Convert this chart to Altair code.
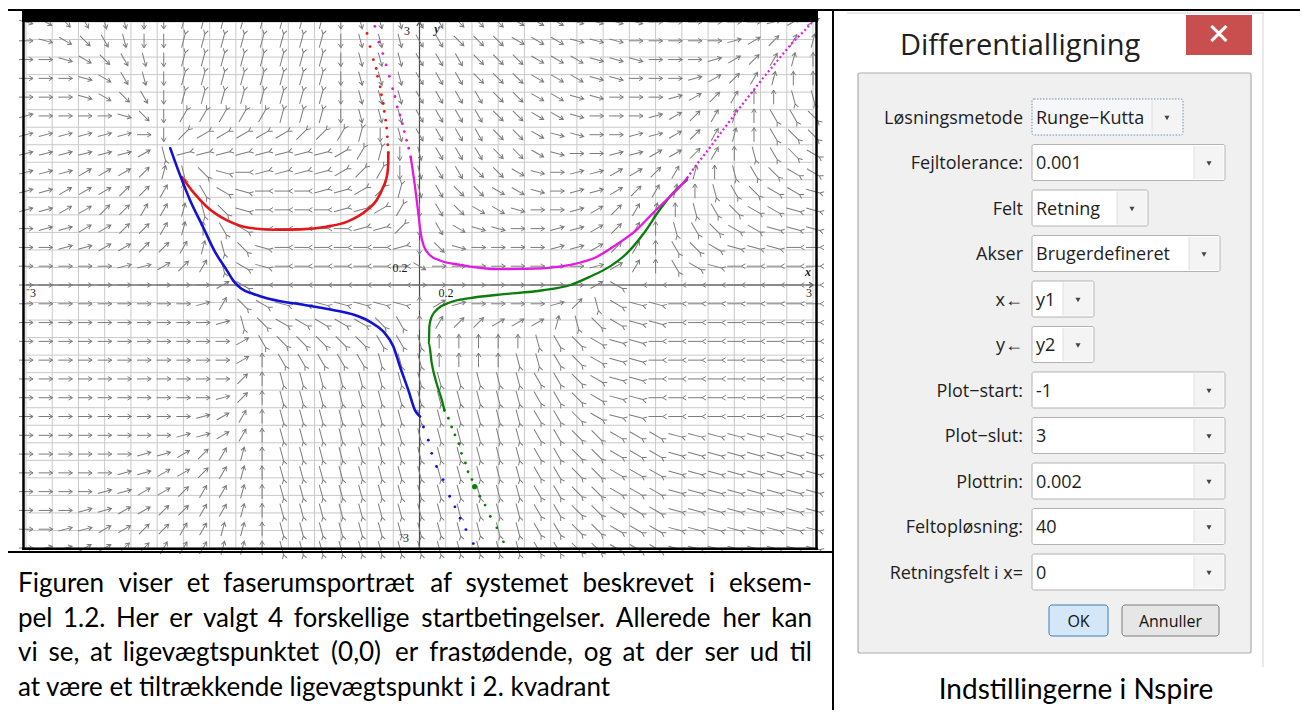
import altair as alt
import pandas as pd

OFF = 8  # page margin: reference pixel -> chart pixel

# ---------------- phase portrait data ----------------
GRID_TICKS = [round(-3 + 0.2 * i, 1) for i in range(31)]
FIELD_X = [round(-3 + 0.15 * k, 3) for k in range(41)]
FIELD_Y = [round(3 - 6 * r / 28, 4) for r in range(29)]
DIRS = "abcdefghijklmnopqrstuvwx"  # flow direction in 15 degree steps: a=east, g=north, m=west, s=south
FIELD = [
    "xwvuttssrrrrrrrrstttuuvvvwwwxxxxaaaaaabcc",
    "axwvutssrrrrrrrrstttuuvvvwwwxxxaaaaabcdef",
    "aaxwvutsrrrrrrrrstttuuuvvvwwwxxxaaabcdefg",
    "aaaxwutsrrrrrrrrstttuuuvvvwwwxxaaabcdefgg",
    "aaaxwvusrrrrrrrrstttuuuuvvwwxxaaabcdegghh",
    "baaaaxvsqqqqqrrrstttuuuuvvwwxaaabcdefgiij",
    "bbbbbbaspoooooppqrstuuuuvvwxxaabbcdefgijj",
    "bbbbbbchnnnnnnnnoqrstuuuvvwxaabbccdeghijk",
    "bbbcccdfhjlmnnnnopqstuuvvwxabbccdefghijkk",
    "bbcccddegiklmmmnnoprtuvvwwxabbcdefghijkkl",
    "bbccddeefhjlmmmmnnoqsuvwwxaabcdefghijkkll",
    "abbccddefgikmmmmmnnpsuwxxaabbcdeghijkklll",
    "aabbccddefhjlmmmmmmnsvxaaaabbcdegijklllmm",
    "aaaaabbcdehklmmmmmmmwaaaaaaaabcegiklmmmmm",
    "aaaaaaaaaackmmmmmmmmaaaaaaaaackmmmmmmmmmm",
    "aaaaaaaaabejklllllllgcbaaaabdhkllmmmmmmmm",
    "aaaaaaaaaabhjkkkkkjigeddcccfhjkllmmmmmmmm",
    "aaaaaaaaaaacijjjjjiihggggghijkllmmmmmmmmm",
    "aaaaaaaaaaacgiiiiihhhgggghhijkllmmmmmmmmm",
    "aaaaaaaaaaadghhhhhhhhhhhhhiijkllmmmmmmmmm",
    "aaaaaaaaaabdghhhhhhhhhhhhhiijkllmmmmmmmmm",
    "aaaaaaaaabceghhhhhhhhhhhhhiijkllmmmmmmmmm",
    "aaaaaaaabbceghhhhhhhhhhhhhiijjkkkllllllll",
    "aaaaaabbcdefghhhhhhhhhhhhhiijjkkkllllllll",
    "aaaaabbccdefghhhhhhhhhhhhhiijjkkkllllllll",
    "aaaabbccdeefghhhhhhhhhhhhhiijjkkkllllllll",
    "aaabbccddeefghhhhhhhhhhhhhiijjkkkllllllll",
    "aabbccddeeffghhhhhhhhhhhhhiijjkkkllllllll",
    "abbccddeeeffghhhhhhhhhhhhhiijjkkkllllllll",
]

RED_DOT_X = [-0.40, -0.377, -0.352, -0.33, -0.32, -0.30, -0.29, -0.276, -0.268, -0.258, -0.25, -0.245, -0.242, -0.238]
RED_DOT_Y = [2.87, 2.72, 2.57, 2.47, 2.38, 2.26, 2.17, 2.07, 1.98, 1.88, 1.79, 1.69, 1.60, 1.51]
RED_X = [-0.238, -0.238, -0.245, -0.276, -0.326, -0.40, -0.555, -0.71, -0.91, -1.09, -1.29, -1.47, -1.62, -1.72, -1.81]
RED_Y = [1.51, 1.39, 1.27, 1.12, 0.97, 0.855, 0.72, 0.665, 0.635, 0.63, 0.65, 0.74, 0.89, 1.05, 1.23]

BLUE_X = [-1.90, -1.83, -1.75, -1.65, -1.56, -1.47, -1.42, -1.36, -1.27, -1.165, -1.04, -0.91, -0.66, -0.50, -0.377, -0.276, -0.20, -0.149, -0.085, -0.034, 0.004]
BLUE_Y = [1.56, 1.27, 0.97, 0.66, 0.38, 0.17, 0.05, -0.04, -0.10, -0.15, -0.19, -0.22, -0.285, -0.34, -0.42, -0.53, -0.70, -0.93, -1.20, -1.43, -1.50]
BLUE_DOT_X = [0.03, 0.067, 0.093, 0.13, 0.18, 0.23, 0.27, 0.31, 0.354, 0.41]
BLUE_DOT_Y = [-1.62, -1.77, -1.92, -2.07, -2.22, -2.41, -2.53, -2.66, -2.79, -2.95]

GREEN_DOT_X = [0.64, 0.59, 0.54, 0.50, 0.46, 0.42, 0.40, 0.37, 0.35, 0.32, 0.30, 0.27, 0.245, 0.22, 0.19]
GREEN_DOT_Y = [-2.93, -2.77, -2.64, -2.51, -2.41, -2.30, -2.22, -2.13, -2.03, -1.92, -1.81, -1.71, -1.62, -1.52, -1.43]
GREEN_START = (0.42, -2.30)
GREEN_X = [0.19, 0.17, 0.13, 0.093, 0.072, 0.075, 0.093, 0.14, 0.23, 0.385, 0.61, 0.94, 1.15, 1.30, 1.45, 1.58, 1.71, 1.83, 1.93, 2.04]
GREEN_Y = [-1.43, -1.31, -1.12, -0.89, -0.665, -0.475, -0.36, -0.27, -0.20, -0.15, -0.11, -0.06, 0.0, 0.095, 0.21, 0.36, 0.59, 0.855, 1.045, 1.20]

MAG_DOT_X = [-0.34, -0.31, -0.28, -0.255, -0.23, -0.205, -0.187, -0.17, -0.149, -0.13, -0.116, -0.098, -0.082, -0.067]
MAG_DOT_Y = [2.95, 2.77, 2.64, 2.51, 2.38, 2.24, 2.15, 2.03, 1.94, 1.84, 1.75, 1.65, 1.56, 1.46]
MAG_X = [-0.067, -0.034, -0.009, 0.009, 0.034, 0.08, 0.156, 0.31, 0.61, 0.94, 1.15, 1.35, 1.50, 1.655, 1.78, 1.91, 1.985, 2.04]
MAG_Y = [1.46, 1.12, 0.82, 0.59, 0.44, 0.34, 0.28, 0.23, 0.18, 0.19, 0.23, 0.32, 0.46, 0.63, 0.82, 1.01, 1.12, 1.22]
MAG_DIAG_X = [2.04, 2.11, 2.19, 2.265, 2.34, 2.43, 2.53, 2.63, 2.735, 2.84, 2.94, 2.99]
MAG_DIAG_Y = [1.22, 1.37, 1.52, 1.67, 1.82, 2.0, 2.19, 2.38, 2.57, 2.76, 2.91, 2.99]

AXIS_LABELS = ["3", "y", "0.2", "⁻3", "0.2", "3", "x", "⁻3"]

PARAGRAPH = [
    "Figuren viser et faserumsportræt af systemet beskrevet i eksem-",
    "pel 1.2. Her er valgt 4 forskellige startbetingelser. Allerede her kan",
    "vi se, at ligevægtspunktet  (0,0) er frastødende, og at der ser ud til",
    "at være et tiltrækkende ligevægtspunkt i 2. kvadrant",
]
DIALOG_TITLE = "Differentialligning"
ROW_LABELS = ["Løsningsmetode", "Fejltolerance:", "Felt", "Akser", "x←", "y←",
              "Plot−start:", "Plot−slut:", "Plottrin:", "Feltopløsning:", "Retningsfelt i x="]
ROW_VALUES = ["Runge−Kutta", "0.001", "Retning", "Brugerdefineret", "y1", "y2",
              "-1", "3", "0.002", "40", "0"]
BUTTONS = ["OK", "Annuller"]
CAPTION = "Indstillingerne i Nspire"

# ---------------- helpers ----------------
XS = alt.Scale(domain=[-3, 3], range=[26 - OFF, 813 - OFF], nice=False, zero=False)
YS = alt.Scale(domain=[-3, 3], range=[548 - OFF, 22 - OFF], nice=False, zero=False)


def DX(f):
    return alt.X(f + ":Q", scale=XS, axis=None)


def DY(f):
    return alt.Y(f + ":Q", scale=YS, axis=None)


def PX(f):
    return alt.X(f + ":Q", scale=None, axis=None)


def PY(f):
    return alt.Y(f + ":Q", scale=None, axis=None)


def pix(rows, cols):
    df = pd.DataFrame(rows, columns=cols)
    for c in cols:
        if c.startswith("x") or c.startswith("y"):
            df[c] = df[c] - OFF
    return df


def rects(rows, **mark):
    df = pix(rows, ["x", "y", "x2", "y2"])
    return alt.Chart(df).mark_rect(**mark).encode(
        x=PX("x"), x2=alt.X2("x2:Q"), y=PY("y"), y2=alt.Y2("y2:Q"))


def rules(rows, **mark):
    df = pix(rows, ["x", "y", "x2", "y2"])
    return alt.Chart(df).mark_rule(**mark).encode(
        x=PX("x"), x2=alt.X2("x2:Q"), y=PY("y"), y2=alt.Y2("y2:Q"))


def texts(rows, **mark):
    df = pix(rows, ["t", "x", "y"])
    return alt.Chart(df).mark_text(**mark).encode(x=PX("x"), y=PY("y"), text="t:N")


layers = []

# ---------------- grid ----------------
gdf = pd.DataFrame({"g": GRID_TICKS, "lo": -3.0, "hi": 3.0})
layers.append(alt.Chart(gdf).mark_rule(color="#c9c9c9", strokeWidth=1).encode(
    x=DX("g"), y=DY("lo"), y2=alt.Y2("hi:Q")))
layers.append(alt.Chart(gdf).mark_rule(color="#c9c9c9", strokeWidth=1).encode(
    y=DY("g"), x=DX("lo"), x2=alt.X2("hi:Q")))

# axes through origin
adf = pd.DataFrame({"a": [0.0], "lo": [-3.0], "hi": [3.0]})
layers.append(alt.Chart(adf).mark_rule(color="#4a4a4a", strokeWidth=1.2).encode(
    y=DY("a"), x=DX("lo"), x2=alt.X2("hi:Q")))
layers.append(alt.Chart(adf).mark_rule(color="#4a4a4a", strokeWidth=1.2).encode(
    x=DX("a"), y=DY("lo"), y2=alt.Y2("hi:Q")))
tips = pd.DataFrame({"x": [3.0, 0.0], "y": [0.0, 3.0], "rot": [0, 270]})
layers.append(alt.Chart(tips).mark_point(
    shape="M-1,-0.7L0,0L-1,0.7", filled=False, size=60, color="#4a4a4a", opacity=1, strokeWidth=1.2
).encode(x=DX("x"), y=DY("y"), angle=alt.Angle("rot:Q", scale=None)))

# ---------------- direction field ----------------
frows = []
for r, s in enumerate(FIELD):
    for k, ch in enumerate(s[:41]):
        th = 15 * DIRS.index(ch)
        frows.append({"x": FIELD_X[k], "y": FIELD_Y[r], "rot": (360 - th) % 360,
                      "style": "r" if 90 < th < 270 else "n"})
fdf = pd.DataFrame(frows)
ARROW_N = "M-1,0L1,0M0.45,-0.33L1,0L0.45,0.33"
ARROW_R = "M-1,0L1,0M-1.55,-0.33L-1,0L-1.55,0.33"
layers.append(alt.Chart(fdf).mark_point(filled=False, size=200, color="#7c7c7c", opacity=1, strokeWidth=1).encode(
    x=DX("x"), y=DY("y"),
    angle=alt.Angle("rot:Q", scale=None),
    shape=alt.Shape("style:N", scale=alt.Scale(domain=["n", "r"], range=[ARROW_N, ARROW_R]), legend=None),
))

# ---------------- trajectories ----------------
RED, BLUE, GREEN, MAG = "#e3161b", "#1212d4", "#0b7d0b", "#e31ae3"
trows = []
for name, col, w, xs, ys in [("red", RED, 2.6, RED_X, RED_Y), ("blue", BLUE, 2.6, BLUE_X, BLUE_Y),
                             ("green", GREEN, 2.3, GREEN_X, GREEN_Y), ("mag", MAG, 2.3, MAG_X, MAG_Y)]:
    for i, (a, b) in enumerate(zip(xs, ys)):
        trows.append({"n": name, "c": col, "w": w, "i": i, "x": a, "y": b})
tdf = pd.DataFrame(trows)
layers.append(alt.Chart(tdf).mark_line(strokeCap="round", strokeJoin="round", interpolate="monotone").encode(
    x=DX("x"), y=DY("y"), detail="n:N", order="i:Q",
    color=alt.Color("c:N", scale=None), strokeWidth=alt.StrokeWidth("w:Q", scale=None)))

ddf = pd.DataFrame({"x": MAG_DIAG_X, "y": MAG_DIAG_Y, "i": list(range(len(MAG_DIAG_X)))})
layers.append(alt.Chart(ddf).mark_line(color=MAG, strokeWidth=2.2, strokeDash=[2, 2.6]).encode(
    x=DX("x"), y=DY("y"), order="i:Q"))

drows = []
for col, xs, ys in [(RED, RED_DOT_X, RED_DOT_Y), (BLUE, BLUE_DOT_X, BLUE_DOT_Y),
                    (GREEN, GREEN_DOT_X, GREEN_DOT_Y), (MAG, MAG_DOT_X, MAG_DOT_Y)]:
    for a, b in zip(xs, ys):
        drows.append({"c": col, "x": a, "y": b})
layers.append(alt.Chart(pd.DataFrame(drows)).mark_circle(size=8, opacity=1).encode(
    x=DX("x"), y=DY("y"), color=alt.Color("c:N", scale=None)))
layers.append(alt.Chart(pd.DataFrame({"x": [GREEN_START[0]], "y": [GREEN_START[1]]})).mark_circle(
    size=26, opacity=1, color=GREEN).encode(x=DX("x"), y=DY("y")))

# ---------------- axis labels ----------------
lab_pos = [(407, 31), (437, 29), (400, 268), (31, 293), (446, 293), (809, 293), (808, 272), (404, 538)]
upright = [(t, p[0], p[1]) for t, p in zip(AXIS_LABELS, lab_pos) if t not in ("x", "y")]
italic = [(t, p[0], p[1]) for t, p in zip(AXIS_LABELS, lab_pos) if t in ("x", "y")]
layers.append(texts(upright, font="Liberation Serif", fontSize=12, color="#1a1a1a", align="center", baseline="middle"))
layers.append(texts(italic, font="Liberation Serif", fontSize=12, fontStyle="italic", fontWeight="bold",
                    color="#1a1a1a", align="center", baseline="middle"))

# ---------------- plot frame & table lines ----------------
layers.append(rects([(22, 11, 818, 22)], color="#000000"))
layers.append(rules([(23.5, 11, 23.5, 550), (816.5, 11, 816.5, 550), (22, 548.8, 818, 548.8)],
                    color="#000000", strokeWidth=2.5))
layers.append(rules([(4, 10, 1300, 10), (833, 10, 833, 712), (4, 552, 833, 552)],
                    color="#000000", strokeWidth=2))

# ---------------- dialog ----------------
layers.append(rules([(1263, 12, 1263, 667), (847, 13, 1263, 13)], color="#d4d4d4", strokeWidth=1))
layers.append(rects([(858, 73, 1251, 653)], fill="#f0f0f0", stroke="#aeaeae", strokeWidth=1.2, cornerRadius=2))
layers.append(rects([(1186, 15, 1252, 55)], color="#c94f4f"))
layers.append(texts([("✕", 1219, 35)], font="DejaVu Sans", fontSize=29, color="#ffffff",
                    align="center", baseline="middle"))
layers.append(texts([(DIALOG_TITLE, 900, 55)], font="Open Sans", fontSize=29, color="#202020",
                    align="left", baseline="alphabetic"))

ROW_C = [117 + 45.5 * i for i in range(len(ROW_LABELS))]
BOX_R = [1183, 1225, 1148, 1220, 1094, 1094, 1225, 1225, 1225, 1225, 1225]
BOX_L = 1032
plain = [(BOX_L, c - 18, r, c + 18) for c, r in zip(ROW_C[1:], BOX_R[1:])]
layers.append(rects(plain, fill="#ffffff", stroke="#b3b3b3", strokeWidth=1, cornerRadius=2))
layers.append(rects([(BOX_L, ROW_C[0] - 18, BOX_R[0], ROW_C[0] + 18)], fill="#f5f7f9", stroke="#6f8db0",
                    strokeWidth=1, strokeDash=[1.5, 1.5], cornerRadius=2))
drop = [(r - 31, c - 16.5, r - 1.5, c + 16.5) for c, r in zip(ROW_C, BOX_R)]
layers.append(rects(drop, fill="#f4f4f4"))
layers.append(rules([(r - 31, c - 16.5, r - 31, c + 16.5) for c, r in zip(ROW_C, BOX_R)],
                    color="#dedede", strokeWidth=1))
tri = pix([(r - 16, c + 1) for c, r in zip(ROW_C, BOX_R)], ["x", "y"])
layers.append(alt.Chart(tri).mark_point(shape="triangle-down", filled=True, size=26, color="#444444",
                                        opacity=1).encode(x=PX("x"), y=PY("y")))
layers.append(texts([(t, 1023, c + 6.5) for t, c in zip(ROW_LABELS, ROW_C)], font="Open Sans", fontSize=18,
                    color="#1e1e1e", align="right", baseline="alphabetic"))
layers.append(texts([(t, 1036, c + 6.5) for t, c in zip(ROW_VALUES, ROW_C)], font="Open Sans", fontSize=18,
                    color="#1e1e1e", align="left", baseline="alphabetic"))

layers.append(rects([(1049, 605, 1108, 636)], fill="#d3e7f8", stroke="#3d7fb3", strokeWidth=1, cornerRadius=3))
layers.append(rects([(1122, 605, 1219, 636)], fill="#e6e6e6", stroke="#7d7d7d", strokeWidth=1, cornerRadius=3))
layers.append(texts([(BUTTONS[0], 1078.5, 626.5), (BUTTONS[1], 1170.5, 626.5)], font="Open Sans", fontSize=16,
                    color="#111111", align="center", baseline="alphabetic"))

layers.append(texts([(CAPTION, 1076, 699)], font="Lato", fontSize=28, color="#000000",
                    align="center", baseline="alphabetic"))

# ---------------- paragraph (justified like the reference) ----------------
LATO_W = {' ': .193, 'a': .48, 'b': .55, 'c': .46, 'd': .55, 'e': .51, 'f': .32, 'g': .49, 'h': .55,
          'i': .24, 'j': .24, 'k': .50, 'l': .24, 'm': .83, 'n': .55, 'o': .55, 'p': .55, 'r': .37,
          's': .41, 't': .34, 'u': .55, 'v': .50, 'w': .77, 'x': .49, 'y': .50, 'æ': .81, 'ø': .55,
          'A': .67, 'F': .53, 'H': .73, '(': .30, ')': .30, ',': .22, '.': .22, '-': .34}
FS = 26
LEFT, RIGHT = 18, 812


def est(s):
    return sum(LATO_W.get(ch, .58) for ch in s) * FS


# calibrate the estimate on the last (unjustified) line, measured at 590 px in a render
cal = 590.0 / est(PARAGRAPH[-1])
base = [592, 626.5, 661, 695.5]
wl, wr = [], []
for li, (line, b) in enumerate(zip(PARAGRAPH, base)):
    if li == len(PARAGRAPH) - 1:
        wl.append((line, LEFT, b))
        continue
    words = line.split()
    ww = [est(w) * cal for w in words]
    space = est(" ") * cal
    natural = sum(ww) + space * (len(words) - 1)
    gap = space + (RIGHT - LEFT - natural) / (len(words) - 1)
    x = LEFT
    for i, (w, wd) in enumerate(zip(words, ww)):
        if i == len(words) - 1:
            wr.append((w, RIGHT, b))
        else:
            wl.append((w, x, b))
        x += wd + gap
layers.append(texts(wl, font="Lato", fontSize=FS, color="#000000", align="left", baseline="alphabetic"))
layers.append(texts(wr, font="Lato", fontSize=FS, color="#000000", align="right", baseline="alphabetic"))

chart = alt.layer(*layers).resolve_scale(x="independent", y="independent").properties(
    width=1292, height=702, padding=0, autosize=alt.AutoSizeParams(type="none"), background="white"
).configure_view(strokeWidth=0)

chart.save("out.html", embed_options={"renderer": "svg", "actions": False})
